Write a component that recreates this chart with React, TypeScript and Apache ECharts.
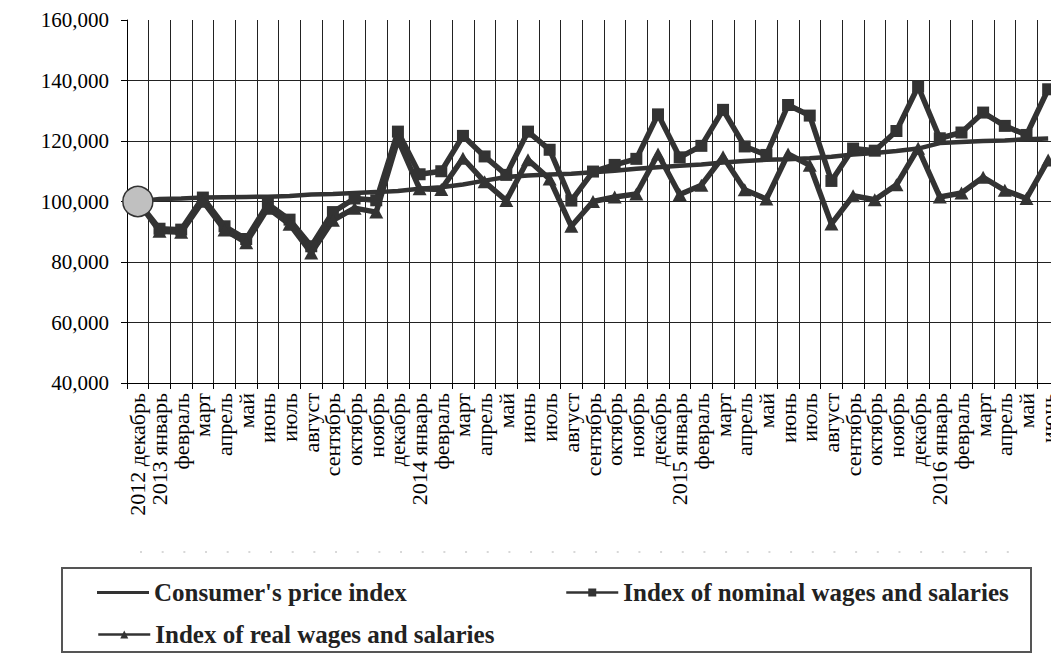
import React, { useEffect, useRef } from "react";
import * as echarts from "echarts";

const months: string[] = [
  "2012 декабрь", "2013 январь", "февраль", "март", "апрель", "май", "июнь", "июль", "август", "сентябрь", "октябрь", "ноябрь", "декабрь",
  "2014 январь", "февраль", "март", "апрель", "май", "июнь", "июль", "август", "сентябрь", "октябрь", "ноябрь", "декабрь",
  "2015 январь", "февраль", "март", "апрель", "май", "июнь", "июль", "август", "сентябрь", "октябрь", "ноябрь", "декабрь",
  "2016 январь", "февраль", "март", "апрель", "май", "июнь",
];

const cpi: number[] = [
  100000, 100800, 101000, 101300, 101400, 101500, 101600, 101800, 102300, 102500, 102800, 103100, 103500,
  104200, 104700, 105600, 106900, 108100, 108600, 108900, 109200, 109700, 110200, 110800, 111300,
  111800, 112200, 112900, 113400, 113800, 114000, 114300, 114800, 115500, 116000, 116700, 117500,
  119300, 119700, 120000, 120200, 120600, 120800,
];

const nominal: number[] = [
  100000, 91000, 90700, 101300, 91800, 87600, 99200, 94000, 85200, 96500, 101000, 100400, 123100,
  109000, 110000, 121700, 114900, 108800, 123100, 117100, 100300, 109900, 112100, 114100, 128800,
  114600, 118400, 130300, 118200, 115400, 131900, 128400, 106800, 117500, 116800, 123300, 138000,
  120900, 122800, 129400, 125000, 122000, 137100,
];

const real: number[] = [
  100000, 90200, 89800, 100100, 90600, 86400, 97800, 92500, 83000, 93800, 97800, 96500, 120500,
  104200, 104000, 114300, 106500, 100300, 113800, 107400, 91800, 100000, 101500, 102500, 115700,
  102300, 105400, 114800, 103900, 100800, 115700, 112000, 92600, 101900, 100600, 105500, 117600,
  101500, 102800, 108000, 103700, 101000, 113700,
];

const yTicks = { min: 40000, max: 160000, step: 20000 };

const seriesNames = {
  cpi: "Consumer's price index",
  nominal: "Index of nominal wages and salaries",
  real: "Index of real wages and salaries",
};

const SERIF = "'Liberation Serif', 'Times New Roman', serif";
const INK = "#333333";

export default function App() {
  const ref = useRef<HTMLDivElement>(null);

  useEffect(() => {
    if (!ref.current) return;
    const chart = echarts.init(ref.current, null, { renderer: "svg" });

    const legendText = {
      fontFamily: SERIF,
      fontWeight: "bold" as const,
      fontSize: 25,
      color: "#222",
    };
    const legendCommon = {
      orient: "horizontal" as const,
      padding: 0,
      itemWidth: 52,
      itemHeight: 10,
      itemGap: 0,
      textStyle: legendText,
      selectedMode: false,
      inactiveColor: INK,
      lineStyle: { width: 2.5 },
    };

    chart.setOption({
      animation: false,
      backgroundColor: "#ffffff",
      grid: { left: 127, top: 20, width: 932, height: 363 },
      xAxis: {
        type: "category",
        data: months,
        boundaryGap: true,
        axisLine: { show: true, lineStyle: { color: "#000", width: 1 } },
        axisTick: { show: true, interval: 0, length: 6, lineStyle: { color: "#000" } },
        axisLabel: {
          interval: 0,
          rotate: 90,
          fontFamily: SERIF,
          fontSize: 22,
          color: "#000",
          margin: 10,
        },
        splitLine: { show: true, interval: 0, lineStyle: { color: "#222", width: 1 } },
      },
      yAxis: {
        type: "value",
        min: yTicks.min,
        max: yTicks.max,
        interval: yTicks.step,
        axisLine: { show: true, lineStyle: { color: "#000", width: 1 } },
        axisTick: { show: true, length: 6, lineStyle: { color: "#000" } },
        axisLabel: {
          formatter: (v: number) => v.toLocaleString("en-US"),
          fontFamily: SERIF,
          fontSize: 21,
          color: "#000",
          margin: 18,
        },
        splitLine: { show: true, showMaxLine: false, lineStyle: { color: "#222", width: 1 } },
      },
      legend: [
        {
          ...legendCommon,
          left: 97,
          top: 580,
          itemHeight: 3,
          data: [{ name: seriesNames.cpi, icon: "rect" }],
        },
        { ...legendCommon, left: 565, top: 580, data: [seriesNames.nominal] },
        { ...legendCommon, left: 97, top: 622, data: [seriesNames.real] },
      ],
      graphic: [
        {
          type: "line",
          shape: { x1: 140, y1: 552, x2: 1022, y2: 552 },
          style: { stroke: "#cccccc", lineWidth: 1.5, lineDash: [2, 19.67] },
          silent: true,
        },
        {
          type: "rect",
          shape: { x: 62, y: 568, width: 969, height: 84 },
          style: { fill: "none", stroke: "#555", lineWidth: 2 },
          silent: true,
        },
      ],
      series: [
        {
          name: seriesNames.cpi,
          type: "line",
          data: cpi,
          symbol: "none",
          lineStyle: { color: INK, width: 4.5 },
          itemStyle: { color: INK },
          z: 3,
        },
        {
          name: seriesNames.nominal,
          type: "line",
          data: nominal,
          symbol: "rect",
          symbolSize: 12,
          showAllSymbol: true,
          lineStyle: { color: INK, width: 5.5 },
          itemStyle: { color: INK },
          z: 4,
        },
        {
          name: seriesNames.real,
          type: "line",
          data: real,
          symbol: "triangle",
          symbolSize: [14, 13],
          showAllSymbol: true,
          lineStyle: { color: INK, width: 5.5 },
          itemStyle: { color: INK },
          z: 4,
        },
        {
          name: "start",
          type: "scatter",
          data: [[0, cpi[0]]],
          symbol: "circle",
          symbolSize: 30,
          itemStyle: { color: "#c0c0c0", borderColor: "#333", borderWidth: 1.5, opacity: 1 },
          z: 10,
        },
      ],
    });

    return () => chart.dispose();
  }, []);

  return (
    <div
      style={{
        position: "fixed",
        left: 0,
        top: 0,
        width: 1051,
        height: 665,
        overflow: "hidden",
        background: "#fff",
      }}
    >
      <div ref={ref} style={{ width: 1070, height: 665 }} />
    </div>
  );
}
